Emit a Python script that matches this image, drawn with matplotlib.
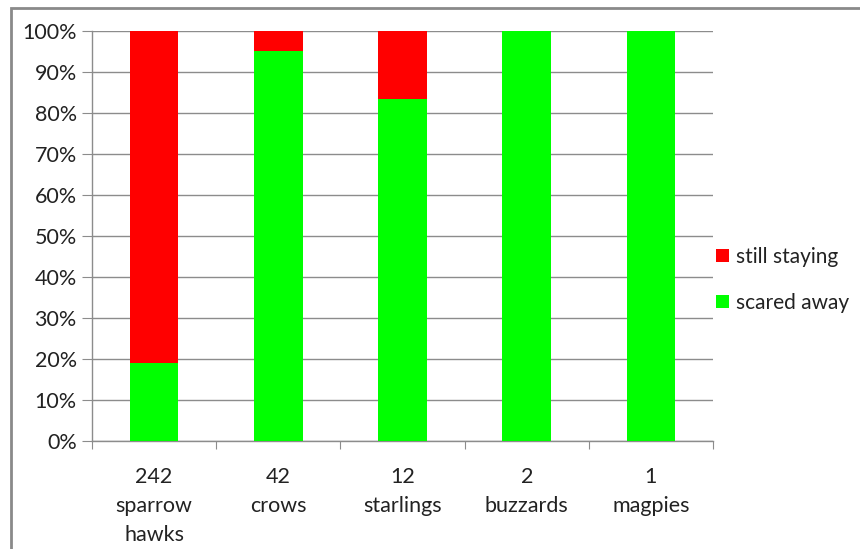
import matplotlib
matplotlib.use("Agg")
import matplotlib.pyplot as plt
from matplotlib.patches import Rectangle
from matplotlib.ticker import FixedLocator, NullFormatter, FixedFormatter

categories = ["242\nsparrow\nhawks", "42\ncrows", "12\nstarlings", "2\nbuzzards", "1\nmagpies"]
scared_away = [19.0, 95.2, 83.3, 100.0, 100.0]
still_staying = [81.0, 4.8, 16.7, 0.0, 0.0]
y_ticks = [0, 10, 20, 30, 40, 50, 60, 70, 80, 90, 100]
y_labels = [f"{v}%" for v in y_ticks]

plt.rcParams['font.family'] = ['Lato', 'DejaVu Sans']
text_color = "#222222"
grid_color = "#8c8c8c"
fs = 15.5

fig = plt.figure(figsize=(8.6, 5.49), dpi=100)
ax = fig.add_axes([92/860, 1 - 441/549, (713-92)/860, (441-31)/549])

x = list(range(len(categories)))
w = 0.39
ax.bar(x, scared_away, width=w, color="#00ff00", label="scared away", zorder=3)
ax.bar(x, still_staying, width=w, bottom=scared_away, color="#ff0000", label="still staying", zorder=3)

ax.set_xlim(-0.5, len(categories) - 0.5)
ax.set_ylim(0, 100)
ax.set_yticks(y_ticks)
ax.set_yticklabels(y_labels, fontsize=fs, color=text_color)
ax.yaxis.grid(True, color=grid_color, linewidth=1, zorder=0)
ax.tick_params(axis='y', length=7, color=grid_color, pad=4)

ax.xaxis.set_major_locator(FixedLocator([i - 0.5 for i in range(len(categories) + 1)]))
ax.xaxis.set_major_formatter(NullFormatter())
ax.xaxis.set_minor_locator(FixedLocator(x))
ax.xaxis.set_minor_formatter(FixedFormatter(categories))
ax.tick_params(axis='x', which='major', length=6, color=grid_color)
ax.tick_params(axis='x', which='minor', length=0, pad=19, labelsize=fs, labelcolor=text_color)
for lbl in ax.get_xticklabels(minor=True):
    lbl.set_linespacing(1.55)
    lbl.set_verticalalignment('top')

for s in ["top", "right"]:
    ax.spines[s].set_visible(False)
for s in ["left", "bottom"]:
    ax.spines[s].set_color(grid_color)
    ax.spines[s].set_linewidth(1)

handles, labels = ax.get_legend_handles_labels()
leg = fig.legend(handles[::-1], labels[::-1], loc="center left",
                 bbox_to_anchor=(716/860, 1 - 280/549), frameon=False,
                 borderpad=0, borderaxespad=0,
                 fontsize=15, handlelength=0.6, handleheight=0.6,
                 handletextpad=0.35, labelspacing=1.25)
for t in leg.get_texts():
    t.set_color(text_color)

fig.patches.append(Rectangle((11/860, -0.05), 1.1, 1 - 8/549 + 0.05,
                             transform=fig.transFigure, fill=False,
                             edgecolor="#8a8a8a", linewidth=2, zorder=10))

fig.savefig("out.png", dpi=100)
